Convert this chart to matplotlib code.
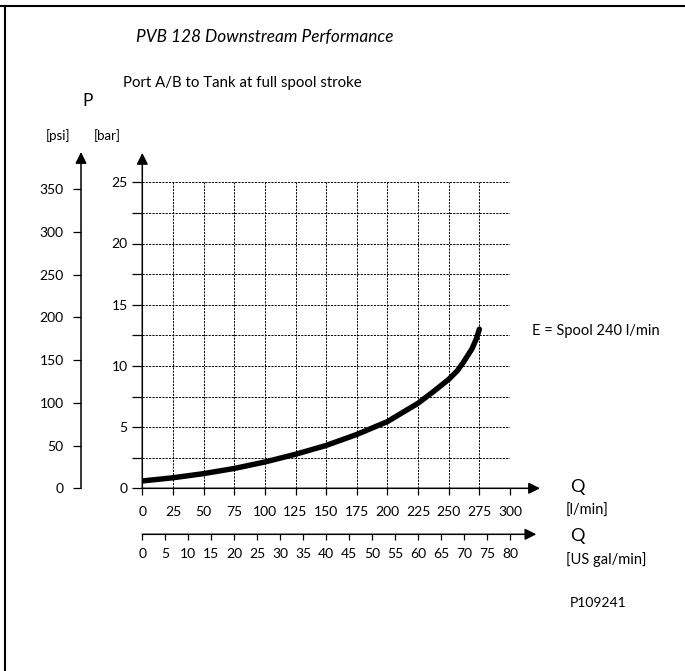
import matplotlib
matplotlib.use("Agg")
import matplotlib.pyplot as plt
from matplotlib.lines import Line2D

plt.rcParams['font.family'] = ['Lato', 'DejaVu Sans']

# ---- data ----
flow_lpm = [0, 25, 50, 75, 100, 125, 150, 175, 200, 225, 237.5, 250, 257, 262, 269, 272.5, 275]
pressure_bar = [0.6, 0.86, 1.2, 1.62, 2.15, 2.78, 3.5, 4.4, 5.45, 6.95, 7.9, 8.9, 9.6, 10.3, 11.4, 12.2, 13.0]

bar_ticks = [0, 5, 10, 15, 20, 25]
bar_minor = [2.5, 7.5, 12.5, 17.5, 22.5]
psi_ticks = [0, 50, 100, 150, 200, 250, 300, 350]
lpm_ticks = list(range(0, 301, 25))
gal_ticks = list(range(0, 81, 5))

title = "PVB 128 Downstream Performance"
subtitle = "Port A/B to Tank at full spool stroke"
curve_label = "E = Spool 240 l/min"
drawing_id = "P109241"

W, H = 685, 671
fig = plt.figure(figsize=(W / 100, H / 100), dpi=100)

def fx(x):
    return x / W

def fy(y):
    return 1 - y / H

# main axes (bar vs l/min)
x0, x1 = 142.3, 510.0
y0, y1 = 488.3, 182.3
ax = fig.add_axes([fx(x0), fy(y0), fx(x1) - fx(x0), fy(y1) - fy(y0)])
ax.set_xlim(0, 300)
ax.set_ylim(0, 25)
for s in ax.spines.values():
    s.set_visible(False)
ax.set_xticks(lpm_ticks)
ax.set_yticks(bar_ticks)
ax.set_yticks(bar_minor, minor=True)
ax.tick_params(axis='x', direction='out', length=5, width=0.9, pad=8, labelsize=10)
ax.tick_params(axis='y', which='both', direction='out', length=7, width=0.9, pad=3.5, labelsize=10)
ax.grid(True, which='both', color='black', linestyle=(0, (2.2, 1.2)), linewidth=0.7)
ax.set_axisbelow(True)

arrow = dict(arrowstyle='-|>', color='black', lw=1.1, mutation_scale=17, shrinkA=0, shrinkB=0)
ax.annotate('', xy=(0, 27.4), xytext=(0, 0), arrowprops=arrow, annotation_clip=False)
ax.annotate('', xy=(324.5, 0), xytext=(0, 0), arrowprops=arrow, annotation_clip=False)

ax.plot(flow_lpm, pressure_bar, color='black', lw=3.9, solid_capstyle='round',
        solid_joinstyle='round', zorder=5)

# psi axis
xp = 81.0
axp = fig.add_axes([fx(xp), fy(y0), 0.02, fy(y1) - fy(y0)])
axp.set_ylim(0, (y0 - y1) / ((y0 - 189.3) / 350.0))
axp.set_xlim(0, 1)
for s in axp.spines.values():
    s.set_visible(False)
axp.patch.set_visible(False)
axp.set_xticks([])
axp.set_yticks(psi_ticks)
axp.tick_params(axis='y', direction='out', length=6, width=0.9, pad=6.5, labelsize=10)
psi_top = (y0 - 152.0) / ((y0 - 189.3) / 350.0)
axp.annotate('', xy=(0, psi_top), xytext=(0, 0), arrowprops=arrow, annotation_clip=False)

# US gal/min axis
yg = 534.3
axg = fig.add_axes([fx(x0), fy(yg), fx(x1) - fx(x0), 0.01])
axg.set_xlim(0, 300 / 3.785)
axg.set_ylim(0, 1)
for s in axg.spines.values():
    s.set_visible(False)
axg.patch.set_visible(False)
axg.set_yticks([])
axg.set_xticks(gal_ticks)
axg.tick_params(axis='x', direction='out', length=4.5, width=0.9, pad=5.5, labelsize=10)
gal_tip = 324.5 / 3.785
axg.annotate('', xy=(gal_tip, 0), xytext=(0, 0), arrowprops=arrow, annotation_clip=False)

# texts
fig.text(fx(264.5), fy(37), title, ha='center', va='center', fontsize=12.4, style='italic')
fig.text(fx(242.5), fy(83.5), subtitle, ha='center', va='center', fontsize=10.8)
fig.text(fx(88), fy(101), "P", ha='center', va='center', fontsize=12.5)
fig.text(fx(58), fy(136), "[psi]", ha='center', va='center', fontsize=9.5)
fig.text(fx(107), fy(136), "[bar]", ha='center', va='center', fontsize=9.5)
fig.text(fx(577), fy(487), "Q", ha='center', va='center', fontsize=13)
fig.text(fx(566), fy(510.5), "[l/min]", ha='left', va='center', fontsize=10.5)
fig.text(fx(577), fy(536), "Q", ha='center', va='center', fontsize=13)
fig.text(fx(566), fy(560), "[US gal/min]", ha='left', va='center', fontsize=10.5)
fig.text(fx(532), fy(331.5), curve_label, ha='left', va='center', fontsize=10.5)
fig.text(fx(598), fy(603), drawing_id, ha='center', va='center', fontsize=10)

# frame lines
fig.add_artist(Line2D([0, 1], [fy(6), fy(6)], transform=fig.transFigure, color='black', lw=1.5))
fig.add_artist(Line2D([fx(5), fx(5)], [0, fy(6)], transform=fig.transFigure, color='black', lw=1.5))

fig.savefig("out.png", dpi=100, facecolor='white')
